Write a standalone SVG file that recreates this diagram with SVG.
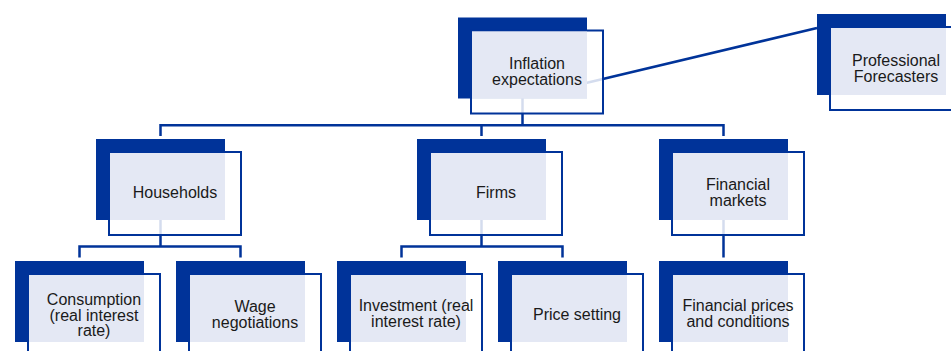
<svg xmlns="http://www.w3.org/2000/svg" width="951" height="351" viewBox="0 0 951 351">
<style>
.back{fill:#003399}
.frame{fill:#ffffff;fill-opacity:0.83;stroke:#003399;stroke-width:2}
.face{fill:#E4E8F4}
.lbl{font-family:"Liberation Sans",Arial,sans-serif;font-size:16px;fill:#1a1a1a;text-anchor:middle}
.conn{fill:none;stroke:#003399;stroke-width:2.5}
</style>
<rect width="951" height="351" fill="#ffffff"/>
<g id="connectors" class="conn">
<path d="M522.5 90 V125.3"/>
<path d="M160.5 136 V125.3 H723.5 V136"/>
<path d="M481.5 125.3 V136"/>
<path d="M160.5 215 V246.5"/>
<path d="M79.5 257.5 V246.5 H240.5 V257.5"/>
<path d="M481.5 215 V246.5"/>
<path d="M401.5 257.5 V246.5 H562.5 V257.5"/>
<path d="M723.5 215 V257.5"/>
<path d="M586 83 L817 28"/>
</g>
<g id="inflation">
<rect class="back" x="458" y="17.5" width="129" height="81"/>
<rect class="frame" x="471" y="30.5" width="132" height="83"/>
<rect class="face" x="472" y="31.5" width="115" height="67"/>
<text class="lbl" x="537" y="68.5">Inflation</text>
<text class="lbl" x="537" y="85">expectations</text>
</g>
<g id="forecasters">
<rect class="back" x="817" y="14" width="129" height="81"/>
<rect class="frame" x="830" y="27" width="132" height="83"/>
<rect class="face" x="831" y="28" width="115" height="67"/>
<text class="lbl" x="896" y="65.5">Professional</text>
<text class="lbl" x="896" y="81.5">Forecasters</text>
</g>
<g id="households">
<rect class="back" x="96" y="139" width="129" height="81"/>
<rect class="frame" x="109" y="152" width="132" height="83"/>
<rect class="face" x="110" y="153" width="115" height="67"/>
<text class="lbl" x="175" y="198.3">Households</text>
</g>
<g id="firms">
<rect class="back" x="417" y="139" width="129" height="81"/>
<rect class="frame" x="430" y="152" width="132" height="83"/>
<rect class="face" x="431" y="153" width="115" height="67"/>
<text class="lbl" x="496" y="198.3">Firms</text>
</g>
<g id="financial-markets">
<rect class="back" x="659" y="139" width="129" height="81"/>
<rect class="frame" x="672" y="152" width="132" height="83"/>
<rect class="face" x="673" y="153" width="115" height="67"/>
<text class="lbl" x="738" y="190">Financial</text>
<text class="lbl" x="738" y="206">markets</text>
</g>
<g id="consumption">
<rect class="back" x="15" y="261" width="129" height="81"/>
<rect class="frame" x="28" y="274" width="132" height="83"/>
<rect class="face" x="29" y="275" width="115" height="67"/>
<text class="lbl" x="94" y="305">Consumption</text>
<text class="lbl" x="94" y="320.7">(real interest</text>
<text class="lbl" x="94" y="336.3">rate)</text>
</g>
<g id="wage">
<rect class="back" x="176" y="261" width="129" height="81"/>
<rect class="frame" x="189" y="274" width="132" height="83"/>
<rect class="face" x="190" y="275" width="115" height="67"/>
<text class="lbl" x="255" y="311.5">Wage</text>
<text class="lbl" x="255" y="327.5">negotiations</text>
</g>
<g id="investment">
<rect class="back" x="337" y="261" width="129" height="81"/>
<rect class="frame" x="350" y="274" width="132" height="83"/>
<rect class="face" x="351" y="275" width="115" height="67"/>
<text class="lbl" x="416" y="310.7">Investment (real</text>
<text class="lbl" x="416" y="326.7">interest rate)</text>
</g>
<g id="price-setting">
<rect class="back" x="498" y="261" width="129" height="81"/>
<rect class="frame" x="511" y="274" width="132" height="83"/>
<rect class="face" x="512" y="275" width="115" height="67"/>
<text class="lbl" x="577" y="320">Price setting</text>
</g>
<g id="financial-prices">
<rect class="back" x="659" y="261" width="129" height="81"/>
<rect class="frame" x="672" y="274" width="132" height="83"/>
<rect class="face" x="673" y="275" width="115" height="67"/>
<text class="lbl" x="738" y="310.7">Financial prices</text>
<text class="lbl" x="738" y="326.7">and conditions</text>
</g>
</svg>
